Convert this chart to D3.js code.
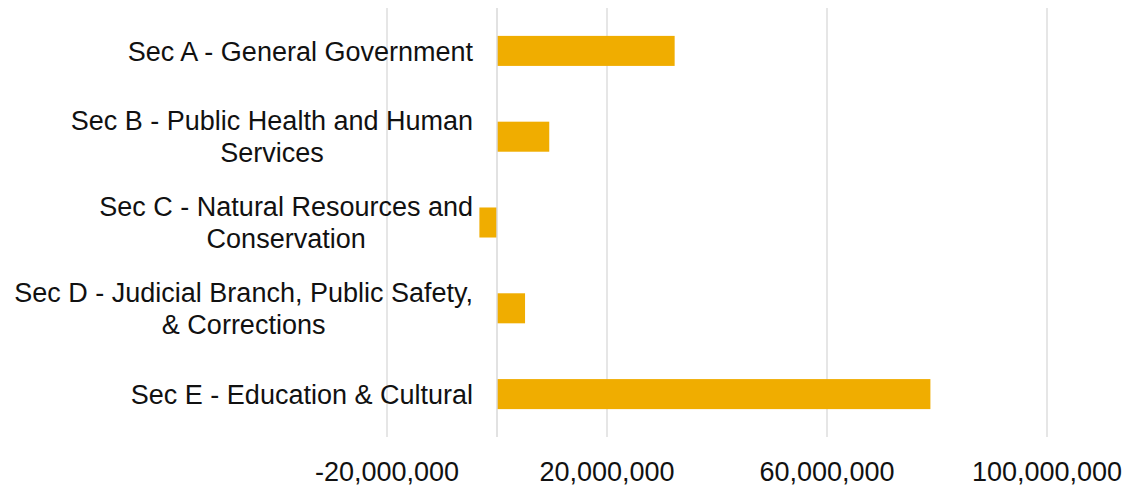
<!DOCTYPE html>
<html>
<head>
<meta charset="utf-8">
<script src="https://cdn.jsdelivr.net/npm/d3@7"></script>
<style>
  html, body { margin: 0; padding: 0; background: #fff; }
  svg { display: block; }
  text { font-family: "Liberation Sans", Arial, sans-serif; fill: #111; }
</style>
</head>
<body>
<svg id="chart" width="1127" height="489"></svg>
<script>
// Budget change by section (dollars)
const categories = [
  ["Sec A - General Government"],
  ["Sec B - Public Health and Human", "Services"],
  ["Sec C - Natural Resources and", "Conservation"],
  ["Sec D - Judicial Branch, Public Safety,", "& Corrections"],
  ["Sec E - Education & Cultural"]
];
const values = [32300000, 9500000, -3200000, 5100000, 78800000];
const tickValues = [-20000000, 20000000, 60000000, 100000000];

const svg = d3.select("#chart");
const fontSize = 27;
const lineHeight = 32;

const x = d3.scaleLinear().domain([-20000000, 100000000]).range([387, 1047]);
const y = d3.scaleBand()
  .domain(d3.range(categories.length))
  .range([8, 437])
  .paddingInner(0.65)
  .paddingOuter(0.325);

// vertical gridlines
svg.append("g")
  .selectAll("line")
  .data(tickValues)
  .join("line")
  .attr("x1", d => x(d)).attr("x2", d => x(d))
  .attr("y1", 8).attr("y2", 437)
  .attr("stroke", "#d9d9d9")
  .attr("stroke-width", 1.3);

// bars
svg.append("g")
  .selectAll("rect")
  .data(values)
  .join("rect")
  .attr("x", d => x(Math.min(0, d)))
  .attr("width", d => Math.abs(x(d) - x(0)))
  .attr("y", (d, i) => y(i))
  .attr("height", y.bandwidth())
  .attr("fill", "#f0ad00");

// category axis at zero
svg.append("line")
  .attr("x1", x(0)).attr("x2", x(0))
  .attr("y1", 8).attr("y2", 437)
  .attr("stroke", "#d9d9d9")
  .attr("stroke-width", 1.5);

// value axis labels (plain hyphen for negatives)
const fmt = d3.formatLocale({ decimal: ".", thousands: ",", grouping: [3], currency: ["$", ""], minus: "-" }).format(",");
svg.append("g")
  .selectAll("text")
  .data(tickValues)
  .join("text")
  .attr("x", d => x(d))
  .attr("y", 481)
  .attr("text-anchor", "middle")
  .attr("font-size", fontSize)
  .text(d => fmt(d));

// category labels, right-aligned block with lines centred on each other
const rightEdge = 473;
const labels = svg.append("g");
categories.forEach((lines, i) => {
  const cy = y(i) + y.bandwidth() / 2;
  const g = labels.append("g");
  const texts = lines.map((t, j) => g.append("text")
    .attr("font-size", fontSize)
    .attr("text-anchor", "middle")
    .attr("y", cy + (j - (lines.length - 1) / 2) * lineHeight + fontSize * 0.36)
    .text(t));
  const maxW = d3.max(texts, t => t.node().getComputedTextLength());
  texts.forEach(t => t.attr("x", rightEdge - maxW / 2));
});
</script>
</body>
</html>
